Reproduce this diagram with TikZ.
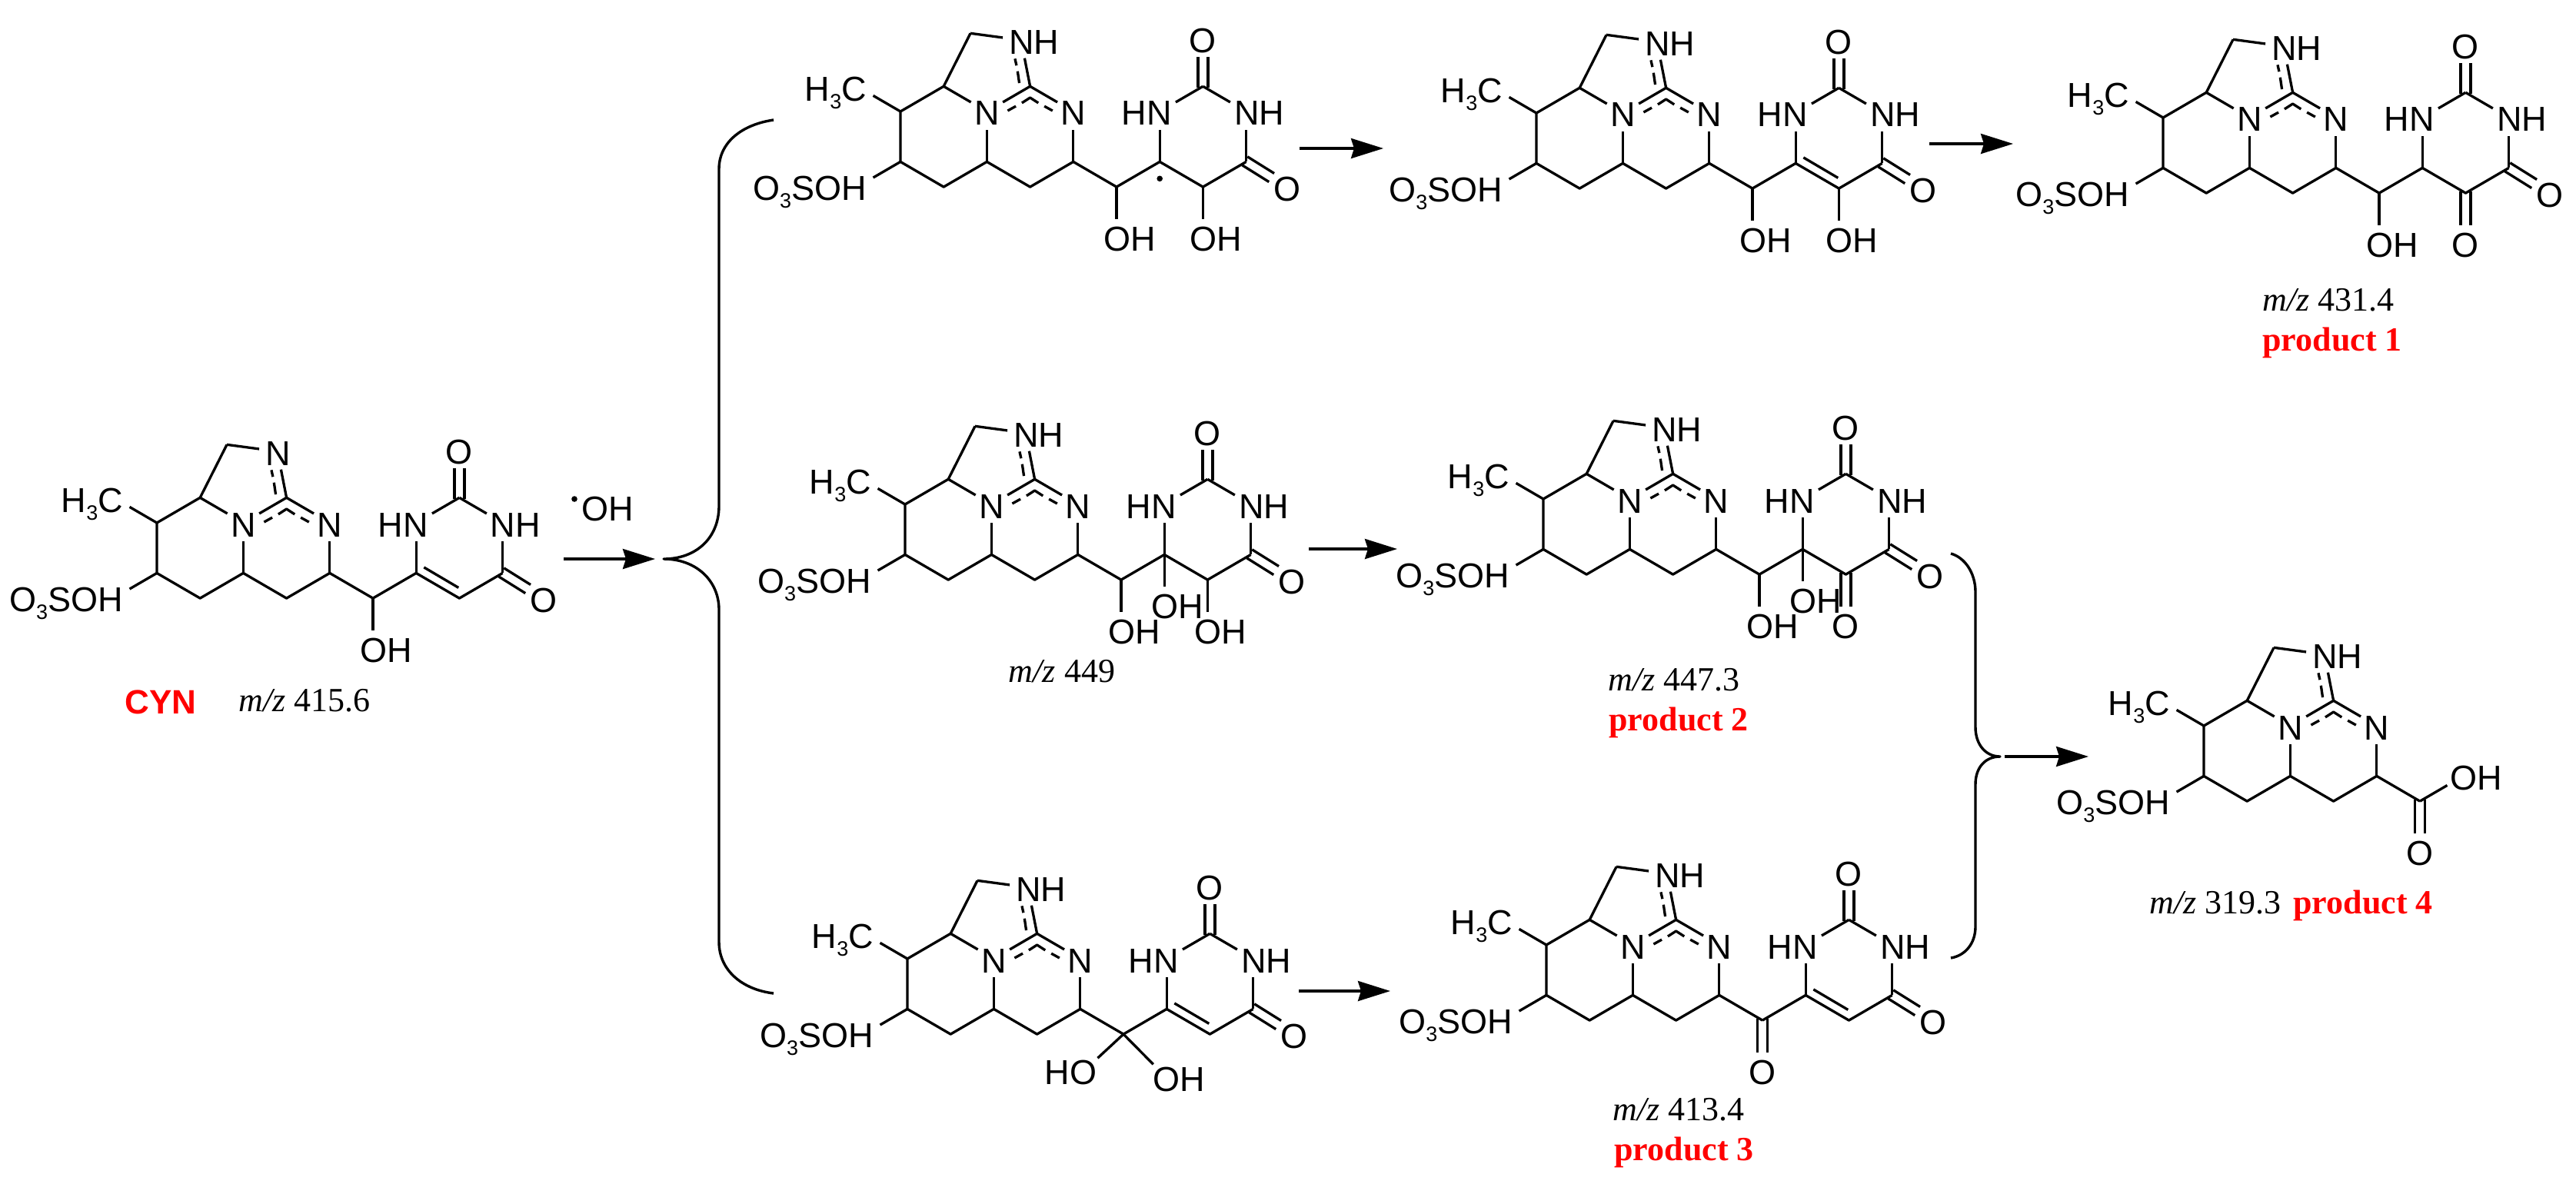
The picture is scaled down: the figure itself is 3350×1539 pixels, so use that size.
\documentclass[tikz,border=0pt]{standalone}
\usepackage{fontspec}
\setmainfont{Liberation Serif}
\setsansfont{Liberation Sans}
\usetikzlibrary{arrows.meta,calc}
\definecolor{prodred}{RGB}{255,0,0}
\tikzset{
  bond/.style={line width=1.65pt,line join=round},
  hb/.style={bond,shorten >=12pt},
  dbl/.style={hb,shorten <=-1pt},
  lab/.style={inner sep=0pt,font=\sffamily\fontsize{22.5}{22.5}\selectfont,anchor=base},
  labw/.style={lab,anchor=base west},
  labe/.style={lab,anchor=base east},
  mzlab/.style={inner sep=0pt,font=\fontsize{22}{22}\selectfont,anchor=base},
  prodlab/.style={inner sep=0pt,text=prodred,font=\bfseries\fontsize{22}{22}\selectfont,anchor=base},
  cynlab/.style={inner sep=0pt,text=prodred,font=\sffamily\bfseries\fontsize{22}{22}\selectfont,anchor=base},
  rarrow/.style={line width=1.7pt,-{Stealth[length=21pt,width=13pt,inset=2pt]}},
  brace/.style={line width=1.7pt,line join=round},
  ddot/.style={circle,fill=black,draw=none,inner sep=0pt,minimum size=3.8pt},
}
\newcommand{\subthree}{\raisebox{-5pt}{\fontsize{13.5}{13.5}\selectfont 3}}
% double bond: two lines offset by +-(#3,#4)
\newcommand{\dblbond}[4]{%
  \draw[dbl] ([shift={(#3,#4)}]#1) -- ([shift={(#3,#4)}]#2);
  \draw[dbl] ([shift={(-#3,-#4)}]#1) -- ([shift={(-#3,-#4)}]#2);}
% hydroxyl on atom #3 at (#1,#2): name #4
\newcommand{\atomoh}[4]{%
  \coordinate (\pf#4) at (#1,#2);
  \draw[hb] (\pf #3) -- (\pf#4);
  \node[labw] (\pf#4l) at ($(#1,#2)+(-0.305,0.55)$) {OH};}
% carbonyl O on atom #3 at (#1,#2): name #4, vertical
\newcommand{\atomov}[4]{%
  \coordinate (\pf#4) at (#1,#2);
  \dblbond{\pf #3}{\pf#4}{3.25pt}{0pt}
  \node[lab] (\pf#4l) at ($(#1,#2)+(0,0.55)$) {O};}
% the right-hand pyrimidine skeleton
\newcommand{\pyrring}{%
  \coordinate (\pf nha) at (6,0);
  \coordinate (\pf c7) at (7,-1);
  \coordinate (\pf nhb) at (8,0);
  \coordinate (\pf c8) at (8,2);
  \coordinate (\pf c9) at (7,3);
  \coordinate (\pf oe) at (8.95,3.02);
  \draw[hb] (\pf c6) -- (\pf nha);
  \draw[hb] (\pf c7) -- (\pf nha);
  \draw[hb] (\pf c7) -- (\pf nhb);
  \draw[hb] (\pf c8) -- (\pf nhb);
  \draw[bond] (\pf c6) -- (\pf c9) -- (\pf c8);
  \atomov{7}{-2.9}{c7}{ot}
  \dblbond{\pf c8}{\pf oe}{1.7pt}{2.77pt}
  \node[lab] (\pf oel) at (8.95,3.57) {O};
  \node[labe] (\pf nhal) at (6.285,0.55) {HN};
  \node[labw] (\pf nhbl) at (7.715,0.55) {NH};}
\newcommand{\ringene}{\coordinate (\pf ia) at (6.18,1.77);\coordinate (\pf ib) at (6.98,2.58);\draw[bond] (\pf ia) -- (\pf ib);}
% the common tricyclic guanidine part
\newcommand{\mol}[5]{%
  \def\pf{#1}%
  \begin{scope}[shift={(#2,#3)},x=28.1pt,y=-16.35pt]
    \coordinate (#1mm) at (-1,-1);
    \coordinate (#1so) at (-1,3);
    \coordinate (#1m7) at (0,0);
    \coordinate (#1m8) at (1,-1);
    \coordinate (#1ch) at (1.62,-3.11);
    \coordinate (#1ntop) at (2.79,-2.84);
    \coordinate (#1ctr) at (3,-1);
    \coordinate (#1na) at (2,0);
    \coordinate (#1nb) at (4,0);
    \coordinate (#1ba) at (0,2);
    \coordinate (#1bb) at (1,3);
    \coordinate (#1bc) at (2,2);
    \coordinate (#1bd) at (3,3);
    \coordinate (#1be) at (4,2);
    \coordinate (#1c5) at (5,3);
    \coordinate (#1c6) at (6,2);
    \draw[bond] (#1ch) -- (#1m8) -- (#1m7) -- (#1ba) -- (#1bb) -- (#1bc) -- (#1bd) -- (#1be) -- (#1c5);
    \draw[hb] (#1m7) -- (#1mm);
    \draw[hb] (#1ba) -- (#1so);
    \draw[hb] (#1m8) -- (#1na);
    \draw[hb] (#1bc) -- (#1na);
    \draw[hb] (#1be) -- (#1nb);
    \draw[hb] (#1ctr) -- (#1na);
    \draw[hb] (#1ctr) -- (#1nb);
    \draw[hb] (#1ctr) -- (#1ntop);
    \draw[hb] (#1ch) -- (#1ntop);
    % delocalised (dashed) bonds
    \draw[bond] (2.48,-0.03) -- (2.67,-0.21);
    \draw[bond] (2.81,-0.34) -- (3,-0.55) -- (3.19,-0.34);
    \draw[bond] (3.33,-0.21) -- (3.52,-0.03);
    \draw[bond] (2.75,-1.13) -- (2.71,-1.6);
    \draw[bond] (2.685,-1.83) -- (2.65,-2.1);
    \node[labe] (#1h3c) at (-0.78,-0.42) {H\subthree C};
    \node[labe] (#1oso) at (-0.78,3.52) {O\subthree SOH};
    \node[lab] (#1nal) at (2,0.55) {N};
    \node[lab] (#1nbl) at (4,0.55) {N};
    \node[labw] (#1ntopl) at (2.505,-2.29) {#4};
    #5
  \end{scope}}
\begin{document}
\begin{tikzpicture}[x=0.5pt,y=-0.5pt]
\useasboundingbox (0,0) rectangle (3350,1539);

% CYN
\mol{cyn}{204}{680}{N}{%
  \draw[bond] (\pf c5) -- (\pf c6);
  \pyrring \ringene
  \atomoh{5}{5}{c5}{oa}}
% top row
\mol{ta}{1171}{145}{NH}{%
  \draw[bond] (\pf c5) -- (\pf c6);
  \pyrring
  \atomoh{5}{5}{c5}{oa}
  \atomoh{7}{5}{c9}{ob}
  \node[ddot] (\pf rad) at (6,2.67) {};}
\mol{tb}{1998}{147}{NH}{%
  \draw[bond] (\pf c5) -- (\pf c6);
  \pyrring \ringene
  \atomoh{5}{5}{c5}{oa}
  \atomoh{7}{5}{c9}{ob}}
\mol{tc}{2813}{153}{NH}{%
  \draw[bond] (\pf c5) -- (\pf c6);
  \pyrring
  \atomoh{5}{5}{c5}{oa}
  \atomov{7}{5}{c9}{ob}}
% middle row
\mol{ma}{1177}{656}{NH}{%
  \draw[bond] (\pf c5) -- (\pf c6);
  \pyrring
  \atomoh{5}{5}{c5}{oa}
  \atomoh{6}{4}{c6}{oc}
  \atomoh{7}{5}{c9}{ob}}
\mol{mb}{2007}{649}{NH}{%
  \draw[bond] (\pf c5) -- (\pf c6);
  \pyrring
  \atomoh{5}{5}{c5}{oa}
  \atomoh{6}{4}{c6}{oc}
  \atomov{7}{5}{c9}{ob}}
% bottom row
\mol{ba}{1180}{1247}{NH}{%
  \draw[bond] (\pf c5) -- (\pf c6);
  \pyrring \ringene
  \coordinate (\pf hoa) at (4.09,4.45);
  \draw[hb] (\pf c5) -- (\pf hoa);
  \node[labe] (\pf hoal) at (4.39,5.0) {HO};
  \atomoh{5.99}{4.72}{c5}{oa}}
\mol{bb}{2011}{1229}{NH}{%
  \draw[bond] (\pf c5) -- (\pf c6);
  \pyrring \ringene
  \atomov{5}{5}{c5}{oa}}
% product 4
\mol{pd}{2866}{944}{NH}{%
  \coordinate (\pf oh) at (6,2);
  \draw[hb] (\pf c5) -- (\pf oh);
  \node[labw] (\pf ohl) at (5.695,2.55) {OH};
  \atomov{5}{5}{c5}{oa}}

% text
\node[cynlab] (tcyn) at (209,928) {CYN};
\node[mzlab] (mz0) at (396,925) {\textit{m/z} 415.6};
\node[mzlab] (mz1) at (3028,404) {\textit{m/z} 431.4};
\node[prodlab] (p1) at (3033,456) {product 1};
\node[mzlab] (mz2) at (1381,887) {\textit{m/z} 449};
\node[mzlab] (mz3) at (2177,898) {\textit{m/z} 447.3};
\node[prodlab] (p2) at (2183,950) {product 2};
\node[mzlab] (mz4) at (2183,1457) {\textit{m/z} 413.4};
\node[prodlab] (p3) at (2190,1509) {product 3};
\node[mzlab,anchor=base west] (mz5) at (2795,1188) {\textit{m/z} 319.3};
\node[prodlab,anchor=base west] (p4) at (2982,1188) {product 4};
\node[labw] (oh) at (756,677) {OH};
\node[ddot] (ohdot) at (747,649) {};

% arrows
\coordinate (a0s) at (733,727);  \coordinate (a0e) at (852,727);
\coordinate (a1s) at (1690,193); \coordinate (a1e) at (1799,193);
\coordinate (a2s) at (2509,187); \coordinate (a2e) at (2618,187);
\coordinate (a3s) at (1702,714); \coordinate (a3e) at (1817,714);
\coordinate (a4s) at (1689,1289);\coordinate (a4e) at (1808,1289);
\coordinate (a5s) at (2607,984); \coordinate (a5e) at (2716,984);
\foreach \i in {0,...,5}{\draw[rarrow] (a\i s) -- (a\i e);}

% braces
\coordinate (lbt) at (1006,156);
\coordinate (lbm) at (863,727);
\coordinate (lbb) at (1006,1292);
\draw[brace] (lbt) .. controls (965,162) and (935,185) .. (935,220) -- (935,658)
  .. controls (935,700) and (905,727) .. (lbm)
  .. controls (905,727) and (935,755) .. (935,793) -- (935,1225)
  .. controls (935,1262) and (965,1287) .. (lbb);
\coordinate (rbt) at (2537,720);
\coordinate (rbm) at (2601,984);
\coordinate (rbb) at (2537,1246);
\draw[brace] (rbt) .. controls (2555,725) and (2569,745) .. (2569,770) -- (2569,946)
  .. controls (2569,968) and (2582,984) .. (rbm)
  .. controls (2582,984) and (2569,998) .. (2569,1020) -- (2569,1205)
  .. controls (2569,1228) and (2555,1243) .. (rbb);
\end{tikzpicture}
\end{document}
